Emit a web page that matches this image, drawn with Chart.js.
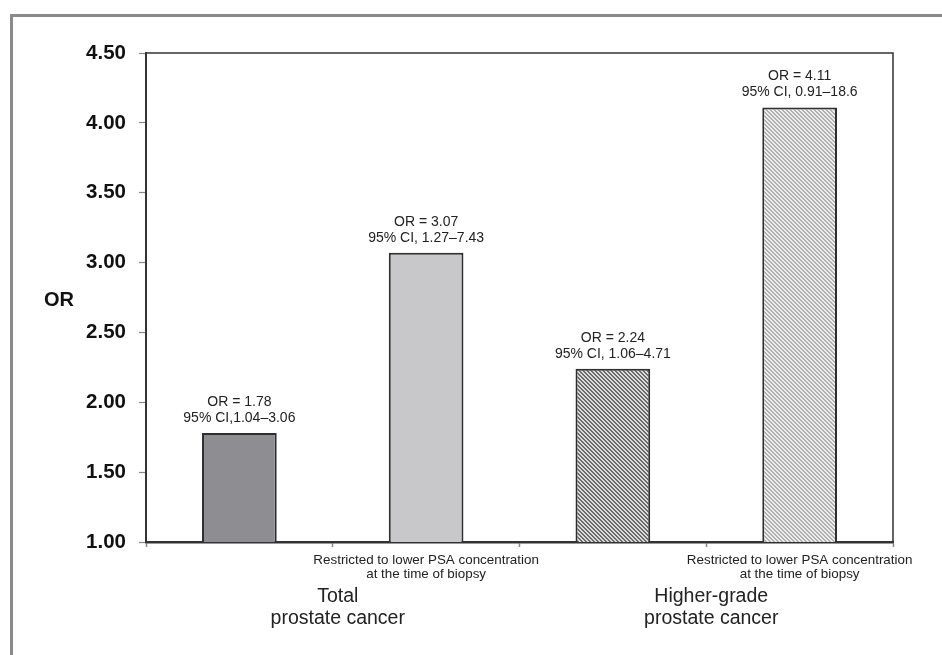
<!DOCTYPE html>
<html>
<head>
<meta charset="utf-8">
<script src="https://cdn.jsdelivr.net/npm/chart.js@4.4.0/dist/chart.umd.min.js"></script>
<style>
  body { margin: 0; background: #fff; }
  #marco { position: absolute; left: 10px; top: 14px; right: -10px; bottom: -10px; border-left: 3px solid #8a8a8c; border-top: 3px solid #8a8a8c; }
  #caja { position: absolute; left: 0; top: 0; width: 942px; height: 655px; }
</style>
</head>
<body>
<div id="marco"></div>
<div id="caja"><canvas id="MyChart"></canvas></div>
<script>
const categorias = ["Total", "Total restricted", "Higher-grade", "Higher-grade restricted"];
const valoresOR = [1.78, 3.07, 2.24, 4.11];
const intervalos = ["95% CI,1.04\u20133.06", "95% CI, 1.27\u20137.43", "95% CI, 1.06\u20134.71", "95% CI, 0.91\u201318.6"];
const etiquetasX = ["", ["Restricted to lower PSA concentration", "at the time of biopsy"], "", ["Restricted to lower PSA concentration", "at the time of biopsy"]];
const grupos = [["Total", "prostate cancer"], ["Higher-grade", "prostate cancer"]];
const ticksY = [1.00, 1.50, 2.00, 2.50, 3.00, 3.50, 4.00, 4.50];

const fuente = "'Liberation Sans', Arial, sans-serif";

// rayas diagonales pixel a pixel, direccion "\"
function rayado(fondo, linea) {
    const c = document.createElement("canvas");
    c.width = 4;
    c.height = 4;
    const g = c.getContext("2d");
    g.fillStyle = fondo;
    g.fillRect(0, 0, 4, 4);
    g.fillStyle = linea;
    for (let i = 0; i < 4; i++) {
        g.fillRect(i, i, 1, 1);
        g.fillRect((i + 1) % 4, i, 1, 1);
    }
    return g.createPattern(c, "repeat");
}

const ctx = document.getElementById("MyChart").getContext("2d");

const rellenos = ["#8e8e92", "#c8c8ca", rayado("#dcdcdc", "#6a6a6a"), rayado("#eeeeee", "#b0b0b0")];

const textos = {
    id: "textos",
    afterDatasetsDraw(chart) {
        const g = chart.ctx;
        const meta = chart.getDatasetMeta(0);
        g.save();
        g.fillStyle = "#222";
        g.textAlign = "center";
        g.textBaseline = "alphabetic";
        g.font = "14px " + fuente;
        meta.data.forEach((bar, i) => {
            g.fillText("OR = " + valoresOR[i].toFixed(2), bar.x, bar.y - 27);
            g.fillText(intervalos[i], bar.x, bar.y - 11);
        });
        // marco del area
        const a = chart.chartArea;
        g.strokeStyle = "#333";
        g.lineWidth = 1.5;
        g.beginPath();
        g.moveTo(a.left, a.top);
        g.lineTo(a.right, a.top);
        g.lineTo(a.right, a.bottom);
        g.stroke();
        // titulo eje y
        g.fillStyle = "#111";
        g.font = "bold 20px " + fuente;
        g.textBaseline = "middle";
        g.fillText("OR", 59, (a.top + a.bottom) / 2 + 3);
        // grupos
        const x = chart.scales.x;
        g.fillStyle = "#222";
        g.font = "19.5px " + fuente;
        g.textBaseline = "alphabetic";
        grupos.forEach((lineas, k) => {
            const cx = (x.getPixelForValue(2 * k) + x.getPixelForValue(2 * k + 1)) / 2 + 5;
            lineas.forEach((t, j) => g.fillText(t, cx, 602 + j * 22));
        });
        g.restore();
    }
};

const grafica = new Chart(ctx, {
    type: "bar",
    data: {
        labels: categorias,
        datasets: [{
            label: "OR",
            data: valoresOR,
            backgroundColor: rellenos,
            borderColor: "#2e2e2e",
            borderWidth: 2,
            borderSkipped: "bottom",
            barPercentage: 0.4,
            categoryPercentage: 1
        }]
    },
    options: {
        responsive: true,
        maintainAspectRatio: false,
        animation: false,
        devicePixelRatio: 1,
        layout: { padding: { top: 53, right: 49, left: 0, bottom: 0 } },
        plugins: {
            legend: { display: false },
            tooltip: { enabled: false }
        },
        scales: {
            x: {
                afterFit(s) { s.height = 113; },
                grid: { offset: true, drawOnChartArea: false, tickLength: 5, tickColor: "#888", tickWidth: 1.5 },
                border: { color: "#333", width: 2.5 },
                ticks: {
                    callback: (v, i) => etiquetasX[i],
                    maxRotation: 0,
                    minRotation: 0,
                    autoSkip: false,
                    padding: 6,
                    color: "#222",
                    font: { family: fuente, size: 13.4, lineHeight: 1.05 }
                }
            },
            y: {
                min: 1,
                max: 4.5,
                afterFit(s) { s.width = 146; },
                afterBuildTicks(s) { s.ticks = ticksY.map(v => ({ value: v })); },
                grid: { drawOnChartArea: false, tickLength: 7, tickColor: "#888", tickWidth: 1.2 },
                border: { color: "#333", width: 2 },
                ticks: {
                    callback: v => v.toFixed(2),
                    padding: 13,
                    color: "#111",
                    font: { family: fuente, size: 20.5, weight: "bold" }
                }
            }
        }
    },
    plugins: [textos]
});
</script>
</body>
</html>
